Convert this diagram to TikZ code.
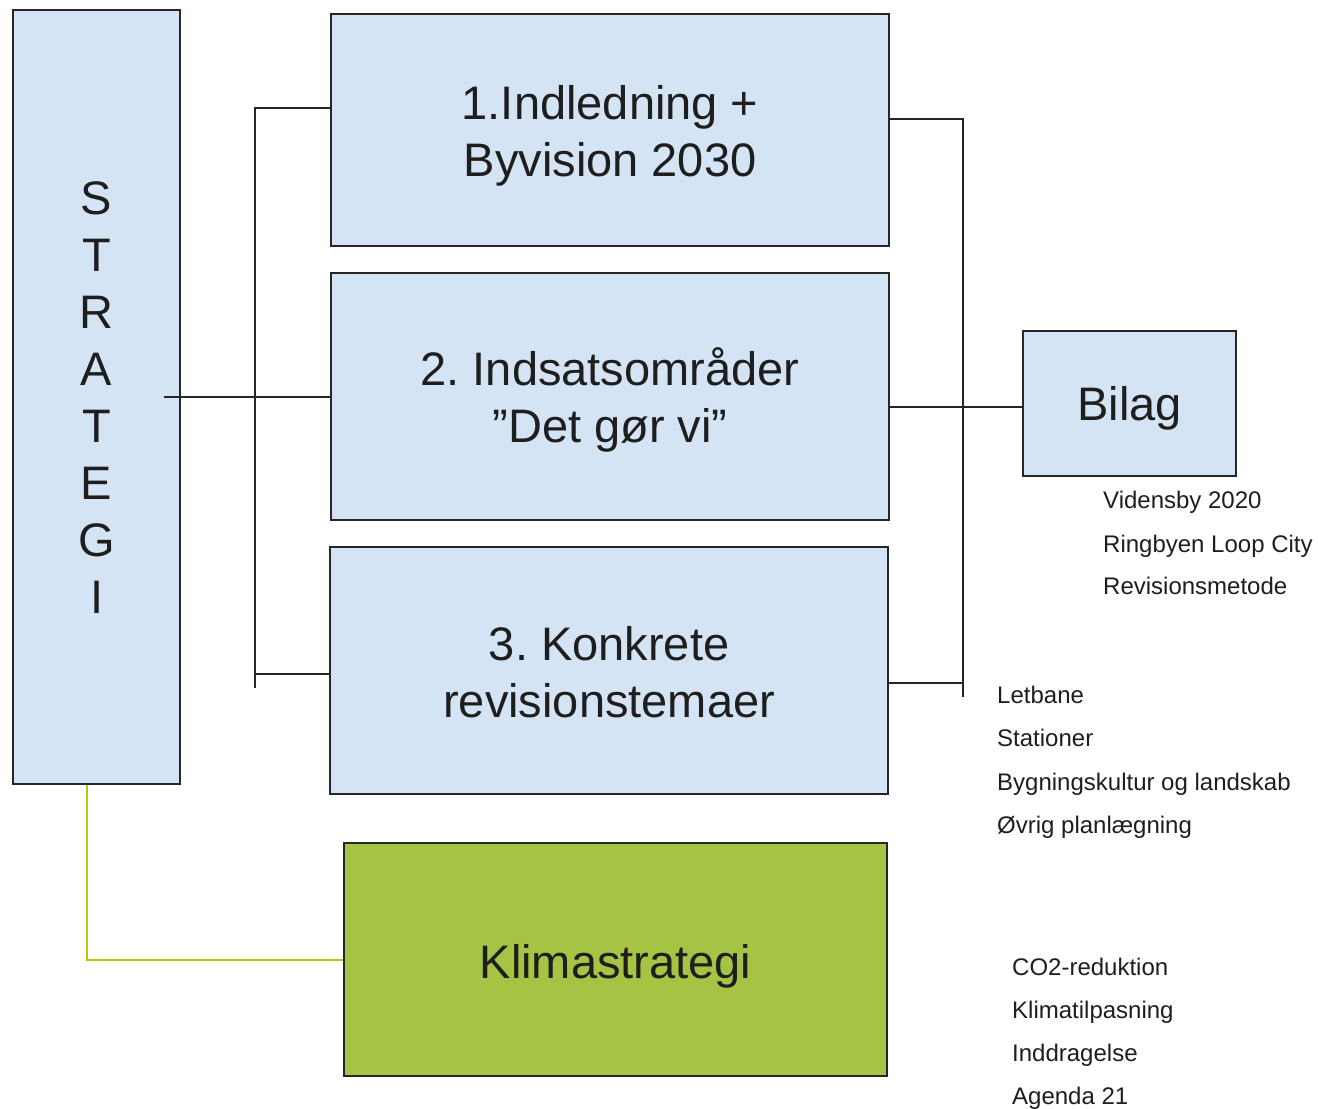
\documentclass[tikz,border=0pt]{standalone}
\usepackage{fontspec}
\setmainfont{Liberation Sans}
\frenchspacing
\definecolor{boxblue}{RGB}{213,228,244}
\definecolor{klimagreen}{RGB}{166,196,68}
\definecolor{linkgreen}{RGB}{185,198,10}
\definecolor{txt}{RGB}{30,30,30}
\begin{document}
\begin{tikzpicture}[x=1pt,y=-1pt,
  box/.style={draw=black!85, line width=2.2pt, fill=boxblue, inner sep=0pt, anchor=north west},
  boxtext/.style={inner sep=0pt, align=center, text=txt, font=\fontsize{47}{57}\selectfont},
  conn/.style={draw=black!85, line width=1.8pt},
  small/.style={anchor=base west, inner sep=0pt, text=txt, font=\fontsize{24}{28}\selectfont}]
\useasboundingbox (0,0) rectangle (1318,1109);
\fill[white] (0,0) rectangle (1318,1109);

\node[box, minimum width=167pt, minimum height=774pt] (strat) at (12,9) {};
\node[box, minimum width=558pt, minimum height=232pt] (b1) at (330,13) {};
\node[box, minimum width=558pt, minimum height=247pt] (b2) at (330,272) {};
\node[box, minimum width=558pt, minimum height=247pt] (b3) at (329,546) {};
\node[box, fill=klimagreen, minimum width=543pt, minimum height=233pt] (klima) at (343,842) {};
\node[box, minimum width=213pt, minimum height=145pt] (bilag) at (1022,330) {};

\node[boxtext] (strat-t) at (strat.center) {S\\T\\R\\A\\T\\E\\G\\I};
\node[boxtext] (b1-t) at ([yshift=-6pt]b1.center) {1.Indledning +\\Byvision 2030};
\node[boxtext] (b2-t) at ([yshift=-3.5pt]b2.center) {2. Indsatsområder\\”Det gør vi”};
\node[boxtext] (b3-t) at ([yshift=-1.5pt]b3.center) {3. Konkrete\\revisionstemaer};
\node[boxtext] (klima-t) at ([yshift=-7pt]klima.center) {Klimastrategi};
\node[boxtext] (bilag-t) at ([yshift=-5pt]bilag.center) {Bilag};

% left bracket
\coordinate (lb) at (255,688);
\draw[conn] ([yshift=22pt]b1.west) -| (lb);
\draw[conn] ([yshift=-3.5pt]b3.west) -- ([yshift=-3.5pt]b3.west -| lb);
\draw[conn] ([xshift=-17pt]strat.east |- b2.west) -- (b2.west);

% right bracket
\coordinate (rb) at (963,697);
\draw[conn] ([yshift=11pt]b1.east) -| (rb);
\draw[conn] ([yshift=-12.5pt]b3.east) -- ([yshift=-12.5pt]b3.east -| rb);
\draw[conn] ([yshift=-10.5pt]b2.east) -- ([yshift=-3.5pt]bilag.west);

% green link
\draw[draw=linkgreen, line width=1.8pt] ([xshift=-9.5pt]strat.south) |- (klima.west);

% lists
\node[small] (v1) at (1103,508) {Vidensby 2020};
\node[small] (v2) at (1103,552) {Ringbyen Loop City};
\node[small] (v3) at (1103,594) {Revisionsmetode};

\node[small] (l1) at (997,703) {Letbane};
\node[small] (l2) at (997,746) {Stationer};
\node[small] (l3) at (997,790) {Bygningskultur og landskab};
\node[small] (l4) at (997,833) {Øvrig planlægning};

\node[small] (k1) at (1012,975) {CO2-reduktion};
\node[small] (k2) at (1012,1018) {Klimatilpasning};
\node[small] (k3) at (1012,1061) {Inddragelse};
\node[small] (k4) at (1012,1104) {Agenda 21};
\end{tikzpicture}
\end{document}
